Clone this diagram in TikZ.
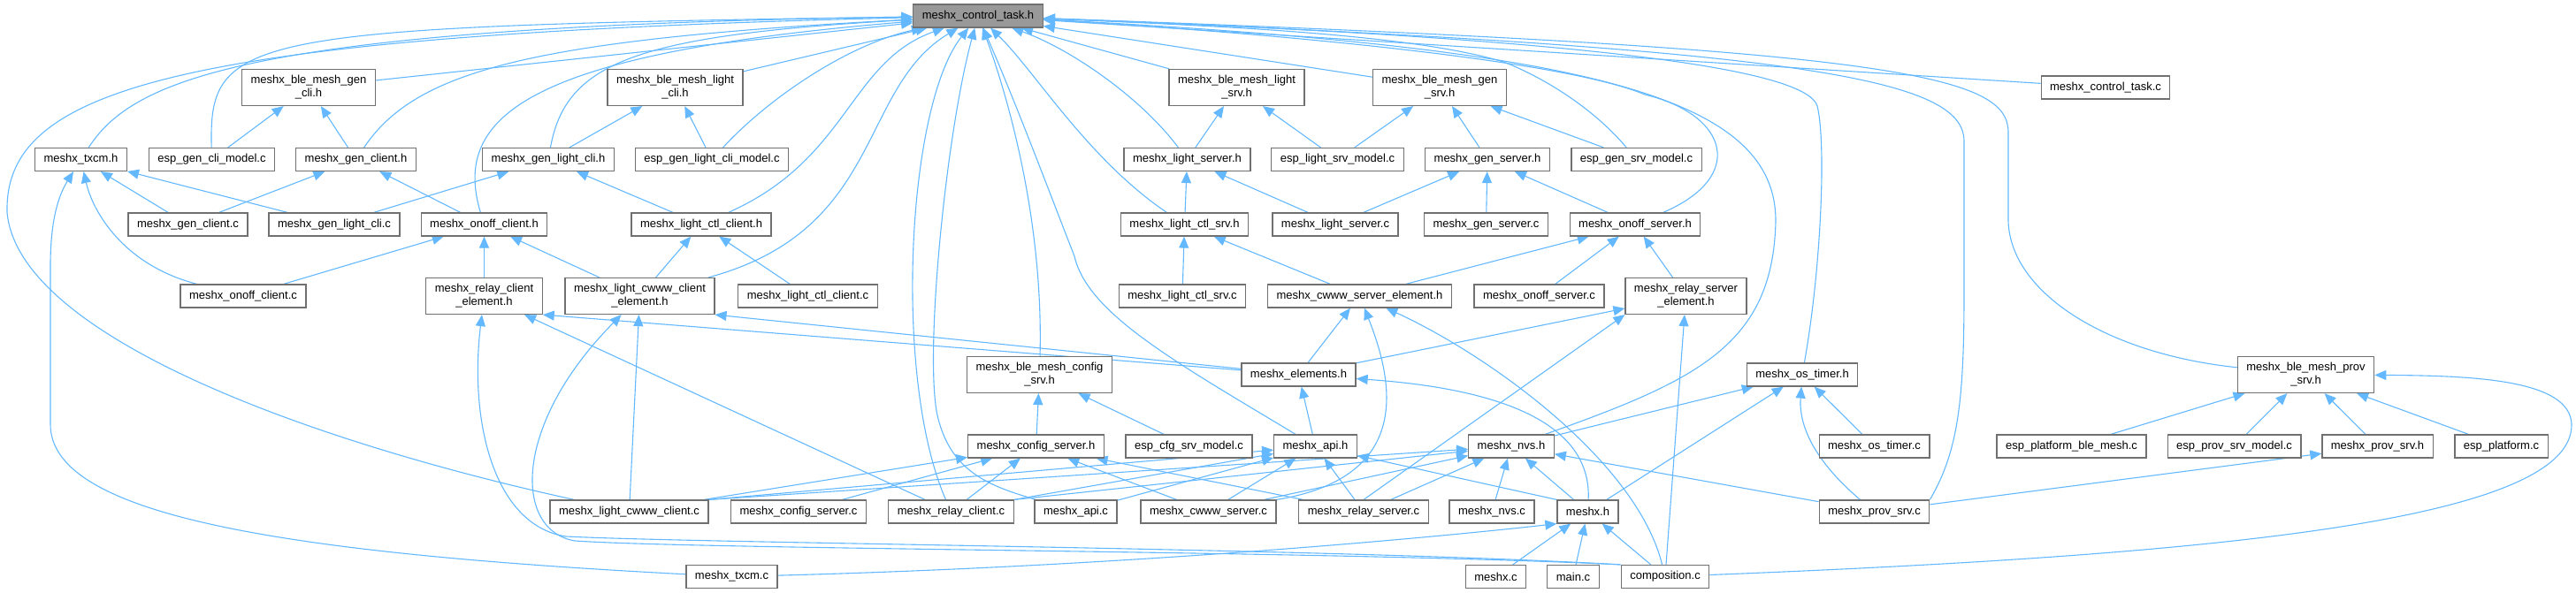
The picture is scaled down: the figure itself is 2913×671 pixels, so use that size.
\documentclass[tikz,border=0pt]{standalone}
\usepackage{fontspec}
\newfontfamily\dxfont{Liberation Sans}
\usetikzlibrary{arrows.meta, backgrounds}
\definecolor{incblue}{HTML}{63B8FF}
\definecolor{boxline}{HTML}{707070}
\definecolor{rootfill}{HTML}{999999}

\begin{document}
\begin{tikzpicture}[
    x=1pt, y=-1pt,
    box/.style={draw=boxline, line width=1.2pt, fill=white, inner xsep=10pt, inner ysep=2pt,
        minimum height=26pt, font=\dxfont\fontsize{13}{15}\selectfont},
    box2/.style={box, align=center, minimum height=41pt},
    root/.style={box, fill=rootfill},
    inc/.style={draw=incblue, line width=1.1pt, -{Triangle[length=13pt, width=11pt]}},
]
\useasboundingbox (0,0) rectangle (2913,671);

% level 0
\node[root] (ctrlh) at (1106,18) {meshx\_control\_task.h};

% level 1
\node[box2] (blegencli) at (349,99) {meshx\_ble\_mesh\_gen\\\_cli.h};
\node[box2] (blelightcli) at (763.5,99) {meshx\_ble\_mesh\_light\\\_cli.h};
\node[box2] (blelightsrv) at (1398.5,99) {meshx\_ble\_mesh\_light\\\_srv.h};
\node[box2] (blegensrv) at (1628,99) {meshx\_ble\_mesh\_gen\\\_srv.h};
\node[box] (ctrlc) at (2381,99) {meshx\_control\_task.c};

% level 2
\node[box] (txcmh) at (91.5,180.5) {meshx\_txcm.h};
\node[box] (espgencli) at (239.5,180.5) {esp\_gen\_cli\_model.c};
\node[box] (genclih) at (402.5,180.5) {meshx\_gen\_client.h};
\node[box] (genlightclih) at (620,180.5) {meshx\_gen\_light\_cli.h};
\node[box] (espgenlightcli) at (805,180.5) {esp\_gen\_light\_cli\_model.c};
\node[box] (lightsrvh) at (1342.5,180.5) {meshx\_light\_server.h};
\node[box] (esplightsrv) at (1512.5,180.5) {esp\_light\_srv\_model.c};
\node[box] (gensrvh) at (1682,180.5) {meshx\_gen\_server.h};
\node[box] (espgensrv) at (1850.5,180.5) {esp\_gen\_srv\_model.c};

% level 3
\node[box] (genclic) at (212.5,254) {meshx\_gen\_client.c};
\node[box] (genlightclic) at (378,254) {meshx\_gen\_light\_cli.c};
\node[box] (onoffclih) at (547.5,254) {meshx\_onoff\_client.h};
\node[box] (lightctlclih) at (793,254) {meshx\_light\_ctl\_client.h};
\node[box] (lightctlsrvh) at (1339.5,254) {meshx\_light\_ctl\_srv.h};
\node[box] (lightsrvc) at (1510,254) {meshx\_light\_server.c};
\node[box] (gensrvc) at (1680.5,254) {meshx\_gen\_server.c};
\node[box] (onoffsrvh) at (1849,254) {meshx\_onoff\_server.h};

% level 4
\node[box] (onoffclic) at (275,335) {meshx\_onoff\_client.c};
\node[box2] (relayclielem) at (547.5,335) {meshx\_relay\_client\\\_element.h};
\node[box2] (cwwwclielem) at (723.5,335) {meshx\_light\_cwww\_client\\\_element.h};
\node[box] (lightctlclic) at (913.5,335) {meshx\_light\_ctl\_client.c};
\node[box] (lightctlsrvc) at (1337,335) {meshx\_light\_ctl\_srv.c};
\node[box] (cwwwsrvelem) at (1537.5,335) {meshx\_cwww\_server\_element.h};
\node[box] (onoffsrvc) at (1740.5,335) {meshx\_onoff\_server.c};
\node[box2] (relaysrvelem) at (1906.5,335) {meshx\_relay\_server\\\_element.h};

% level 5
\node[box2] (bleconfigsrv) at (1175.5,424) {meshx\_ble\_mesh\_config\\\_srv.h};
\node[box] (elementsh) at (1468.5,424) {meshx\_elements.h};
\node[box] (ostimerh) at (2038,424) {meshx\_os\_timer.h};
\node[box2] (bleprovsrv) at (2607.5,424) {meshx\_ble\_mesh\_prov\\\_srv.h};

% level 6
\node[box] (configsrvh) at (1171.5,505) {meshx\_config\_server.h};
\node[box] (espcfgsrv) at (1344.5,505) {esp\_cfg\_srv\_model.c};
\node[box] (apih) at (1487.5,505) {meshx\_api.h};
\node[box] (nvsh) at (1709,505) {meshx\_nvs.h};
\node[box] (ostimerc) at (2119.5,505) {meshx\_os\_timer.c};
\node[box] (espplatble) at (2342.5,505) {esp\_platform\_ble\_mesh.c};
\node[box] (espprovsrv) at (2526.5,505) {esp\_prov\_srv\_model.c};
\node[box] (provsrvh) at (2688.5,505) {meshx\_prov\_srv.h};
\node[box] (espplatform) at (2828.5,505) {esp\_platform.c};

% level 7
\node[box] (cwwwclic) at (711.5,579) {meshx\_light\_cwww\_client.c};
\node[box] (configsrvc) at (903,579) {meshx\_config\_server.c};
\node[box] (relayclic) at (1075.5,579) {meshx\_relay\_client.c};
\node[box] (apic) at (1216.5,579) {meshx\_api.c};
\node[box] (cwwwsrvc) at (1366.5,579) {meshx\_cwww\_server.c};
\node[box] (relaysrvc) at (1542,579) {meshx\_relay\_server.c};
\node[box] (nvsc) at (1687,579) {meshx\_nvs.c};
\node[box] (meshxh) at (1795.5,579) {meshx.h};
\node[box] (provsrvc) at (2119.5,579) {meshx\_prov\_srv.c};

% level 8
\node[box] (txcmc) at (827.5,652.5) {meshx\_txcm.c};
\node[box] (meshxc) at (1691.5,652.5) {meshx.c};
\node[box] (mainc) at (1779,652.5) {main.c};
\node[box] (compc) at (1883,652.5) {composition.c};

\begin{scope}[on background layer]
% into meshx_control_task.h
\draw[inc] (txcmh) .. controls (150,90) and (280,30) .. (ctrlh);
\draw[inc] (espgencli) .. controls (236,40) and (270,30) .. (ctrlh);
\draw[inc] (blegencli) -- (ctrlh);
\draw[inc] (genclih) .. controls (470,80) and (600,45) .. (ctrlh);
\draw[inc] (onoffclih) .. controls (510,130) and (600,60) .. (ctrlh);
\draw[inc] (genlightclih) .. controls (640,70) and (720,40) .. (ctrlh);
\draw[inc] (blelightcli) -- (ctrlh);
\draw[inc] (espgenlightcli) .. controls (870,110) and (960,50) .. (ctrlh);
\draw[inc] (lightctlclih) .. controls (960,180) and (960,70) .. (ctrlh);
\draw[inc] (cwwwclielem) .. controls (1000,260) and (970,100) .. (ctrlh);
\draw[inc] (relayclic) .. controls (1010,430) and (1025,120) .. (ctrlh);
\draw[inc] (apic) .. controls (1120,550) and (1075,535) .. (1060,470)
    .. controls (1045,400) and (1070,150) .. (ctrlh);
\draw[inc] (bleconfigsrv) .. controls (1180,250) and (1140,110) .. (ctrlh);
\draw[inc] (apih) .. controls (1330,410) and (1230,355) .. (1215,290)
    .. controls (1180,200) and (1150,120) .. (ctrlh);
\draw[inc] (lightctlsrvh) .. controls (1230,180) and (1170,80) .. (ctrlh);
\draw[inc] (lightsrvh) .. controls (1290,110) and (1210,55) .. (ctrlh);
\draw[inc] (blelightsrv) -- (ctrlh);
\draw[inc] (blegensrv) -- (ctrlh);
\draw[inc] (espgensrv) .. controls (1800,120) and (1740,85) .. (1700,70)
    .. controls (1600,40) and (1400,30) .. (ctrlh);
\draw[inc] (onoffsrvh) .. controls (1975,200) and (1955,130) .. (1860,107)
    .. controls (1760,65) and (1400,35) .. (ctrlh);
\draw[inc] (nvsh) .. controls (1920,430) and (2005,390) .. (2008,250)
    .. controls (2008,110) and (1800,55) .. (ctrlh);
\draw[inc] (ostimerh) .. controls (2060,300) and (2065,160) .. (2055,120)
    .. controls (2040,70) and (1700,40) .. (ctrlh);
\draw[inc] (provsrvc.north east) .. controls (2215,510) and (2221,450) .. (2221,330) -- (2221,160)
    .. controls (2221,90) and (2050,55) .. (ctrlh);
\draw[inc] (bleprovsrv) .. controls (2380,400) and (2273,330) .. (2271,250) -- (2271,150)
    .. controls (2271,85) and (2150,55) .. (ctrlh);
\draw[inc] (ctrlc) -- (ctrlh);
\draw[inc] (cwwwclic) .. controls (350,500) and (20,380) .. (8,240)
    .. controls (5,100) and (200,40) .. (ctrlh);

% level 1
\draw[inc] (espgencli) -- (blegencli);
\draw[inc] (genclih) -- (blegencli);
\draw[inc] (genlightclih) -- (blelightcli);
\draw[inc] (espgenlightcli) -- (blelightcli);
\draw[inc] (lightsrvh) -- (blelightsrv);
\draw[inc] (esplightsrv) -- (blelightsrv);
\draw[inc] (esplightsrv) -- (blegensrv);
\draw[inc] (gensrvh) -- (blegensrv);
\draw[inc] (espgensrv) -- (blegensrv);

% level 2
\draw[inc] (genclic) -- (txcmh);
\draw[inc] (genlightclic) -- (txcmh);
\draw[inc] (onoffclic) .. controls (140,300) and (105,240) .. (txcmh);
\draw[inc] (txcmc) .. controls (300,625) and (57,580) .. (57,480) -- (57,300)
    .. controls (57,240) and (70,215) .. (txcmh);
\draw[inc] (genclic) -- (genclih);
\draw[inc] (onoffclih) -- (genclih);
\draw[inc] (genlightclic) -- (genlightclih);
\draw[inc] (lightctlclih) -- (genlightclih);
\draw[inc] (lightctlsrvh) -- (lightsrvh);
\draw[inc] (lightsrvc) -- (lightsrvh);
\draw[inc] (lightsrvc) -- (gensrvh);
\draw[inc] (gensrvc) -- (gensrvh);
\draw[inc] (onoffsrvh) -- (gensrvh);

% level 3
\draw[inc] (onoffclic) -- (onoffclih);
\draw[inc] (relayclielem) -- (onoffclih);
\draw[inc] (cwwwclielem) -- (onoffclih);
\draw[inc] (cwwwclielem) -- (lightctlclih);
\draw[inc] (lightctlclic) -- (lightctlclih);
\draw[inc] (lightctlsrvc) -- (lightctlsrvh);
\draw[inc] (cwwwsrvelem) -- (lightctlsrvh);
\draw[inc] (cwwwsrvelem) -- (onoffsrvh);
\draw[inc] (onoffsrvc) -- (onoffsrvh);
\draw[inc] (relaysrvelem) -- (onoffsrvh);

% level 4
\draw[inc] (relayclic) -- (relayclielem);
\draw[inc] (elementsh) -- (relayclielem.south east);
\draw[inc] (compc.north west) .. controls (1500,620) and (800,615) .. (640,607)
    .. controls (560,595) and (530,480) .. (relayclielem);
\draw[inc] (elementsh) -- (cwwwclielem.south east);
\draw[inc] (cwwwclic) -- (cwwwclielem);
\draw[inc] (compc.north west) .. controls (1500,623) and (800,622) .. (650,612)
    .. controls (580,600) and (580,480) .. (cwwwclielem);
\draw[inc] (elementsh) -- (cwwwsrvelem);
\draw[inc] (cwwwsrvc.north east) .. controls (1600,540) and (1575,430) .. (cwwwsrvelem);
\draw[inc] (compc) .. controls (1850,520) and (1680,400) .. (cwwwsrvelem);
\draw[inc] (elementsh) -- (relaysrvelem);
\draw[inc] (relaysrvc.north) -- (relaysrvelem.south west);
\draw[inc] (compc) -- (relaysrvelem);

% level 5
\draw[inc] (apih) -- (elementsh);
\draw[inc] (meshxh) .. controls (1800,480) and (1700,440) .. (elementsh);
\draw[inc] (configsrvh) -- (bleconfigsrv);
\draw[inc] (espcfgsrv) -- (bleconfigsrv);
\draw[inc] (nvsh) -- (ostimerh);
\draw[inc] (meshxh) -- (ostimerh);
\draw[inc] (provsrvc) .. controls (2050,520) and (2034,480) .. (ostimerh);
\draw[inc] (ostimerc) -- (ostimerh);
\draw[inc] (espplatble) -- (bleprovsrv);
\draw[inc] (espprovsrv) -- (bleprovsrv);
\draw[inc] (provsrvh) -- (bleprovsrv);
\draw[inc] (espplatform) -- (bleprovsrv);
\draw[inc] (compc) .. controls (2500,628) and (2910,590) .. (2908,480)
    .. controls (2906,430) and (2800,425) .. (bleprovsrv);

% level 6
\draw[inc] (cwwwclic) -- (configsrvh);
\draw[inc] (configsrvc) -- (configsrvh);
\draw[inc] (relayclic) -- (configsrvh);
\draw[inc] (cwwwsrvc) -- (configsrvh);
\draw[inc] (relaysrvc) -- (configsrvh);
\draw[inc] (cwwwclic.north east) -- (apih);
\draw[inc] (relayclic.north east) -- (apih);
\draw[inc] (apic) -- (apih);
\draw[inc] (cwwwsrvc) -- (apih);
\draw[inc] (relaysrvc) -- (apih);
\draw[inc] (meshxh.north west) -- (apih);
\draw[inc] (cwwwclic.north east) -- (nvsh);
\draw[inc] (relayclic.north east) -- (nvsh);
\draw[inc] (cwwwsrvc) -- (nvsh);
\draw[inc] (relaysrvc) -- (nvsh);
\draw[inc] (nvsc) -- (nvsh);
\draw[inc] (meshxh) -- (nvsh);
\draw[inc] (provsrvc) -- (nvsh);
\draw[inc] (provsrvc) -- (provsrvh);

% level 7
\draw[inc] (txcmc) .. controls (1300,640) and (1650,605) .. (meshxh.south west);
\draw[inc] (meshxc) -- (meshxh);
\draw[inc] (mainc) -- (meshxh);
\draw[inc] (compc) -- (meshxh);
\end{scope}

\end{tikzpicture}
\end{document}
